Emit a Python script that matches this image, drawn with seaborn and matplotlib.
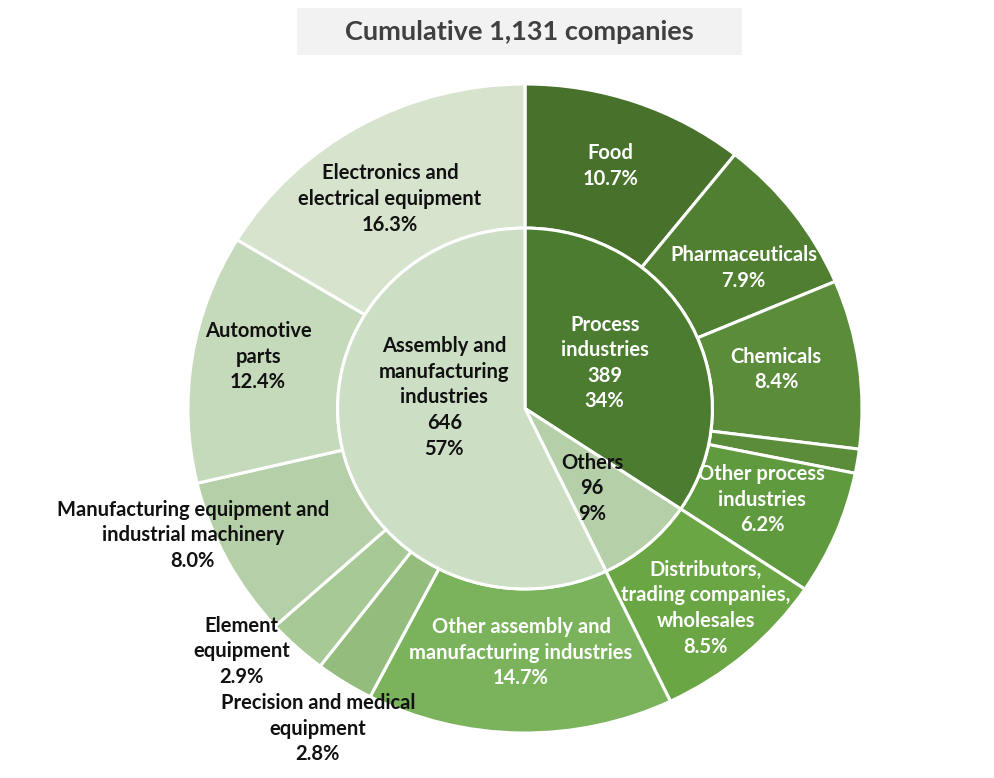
import matplotlib.pyplot as plt
import numpy as np
import seaborn as sns
from matplotlib.patches import Rectangle

# inner ring: industry groups (number of companies)
groups = ["Process\nindustries", "Others", "Assembly and\nmanufacturing\nindustries"]
group_counts = [389, 96, 646]
group_pcts = ["34%", "9%", "57%"]
group_colors = ["#4C7C30", "#B5D0A9", "#CCDEC3"]
group_text = ["white", "#111111", "#111111"]

# outer ring: sub-industries (% of all companies)
sectors = [
    "Food", "Pharmaceuticals", "Chemicals", "Resin", "Other process\nindustries",
    "Distributors,\ntrading companies,\nwholesales",
    "Other assembly and\nmanufacturing industries", "Precision and medical\nequipment",
    "Element\nequipment", "Manufacturing equipment and\nindustrial machinery",
    "Automotive\nparts", "Electronics and\nelectrical equipment",
]
sector_pcts = [10.7, 7.9, 8.4, 1.2, 6.2, 8.5, 14.7, 2.8, 2.9, 8.0, 12.4, 16.3]
sector_colors = [
    "#48722C", "#507F32", "#5A8C3A", "#5A8C3A", "#609A3E", "#6AA644",
    "#7BB35C", "#93BC7D", "#A6C995", "#B5D0A9", "#C5DABB", "#D6E3CD",
]
sector_text = ["white"] * 7 + ["#111111"] * 5

# label layout: radius and angle nudge (deg) from wedge middle
sector_r = [0.79, 0.78, 0.755, 1.13, 0.757, 0.816, 0.753, 1.163, 1.126, 1.06, 0.808, 0.76]
sector_da = [0.5, -3.5, 1.2, 0.4, 0.9, 0.2, 0, 0.5, -5.7, -6.1, -2.4, 2.5]
group_r = [0.275, 0.317, 0.242]
group_da = [2.6, -1.9, -20.9]

sns.set_theme(style="white")
plt.rcParams["font.family"] = ["Lato", "DejaVu Sans"]

fig = plt.figure(figsize=(9.95, 7.78), dpi=100)
ax = fig.add_axes([0, 0, 1, 1])

wp = dict(edgecolor="white", linewidth=2.2)
outer, _ = ax.pie(sector_pcts, radius=1.0, colors=sector_colors, startangle=90,
                  counterclock=False, wedgeprops=dict(width=1 - 0.556, **wp))
inner, _ = ax.pie(group_counts, radius=0.556, colors=group_colors, startangle=90,
                  counterclock=False, wedgeprops=wp)

ax.set_aspect("auto")
ax.set_xlim(-525 / 337, (995 - 525) / 337)
ax.set_ylim(-(778 - 408.5) / 324.5, 408.5 / 324.5)
ax.axis("off")


def put_label(w, r, da, txt, col):
    ang = np.deg2rad((w.theta1 + w.theta2) / 2 + da)
    ax.text(r * np.cos(ang), r * np.sin(ang), txt, ha="center", va="center",
            color=col, fontsize=14.5, fontweight="bold", linespacing=1.35)


for i, w in enumerate(outer):
    put_label(w, sector_r[i], sector_da[i], f"{sectors[i]}\n{sector_pcts[i]:.1f}%", sector_text[i])

for i, w in enumerate(inner):
    put_label(w, group_r[i], group_da[i], f"{groups[i]}\n{group_counts[i]}\n{group_pcts[i]}", group_text[i])

# title box
fig.patches.append(Rectangle((297 / 995, 1 - 55 / 778), 445 / 995, 47 / 778,
                             transform=fig.transFigure, facecolor="#F2F2F2", edgecolor="none"))
fig.text(519.5 / 995, 1 - 32 / 778, "Cumulative 1,131 companies", ha="center", va="center",
         fontsize=19.5, fontweight="bold", color="#404040")

fig.savefig("out.png", dpi=100)
